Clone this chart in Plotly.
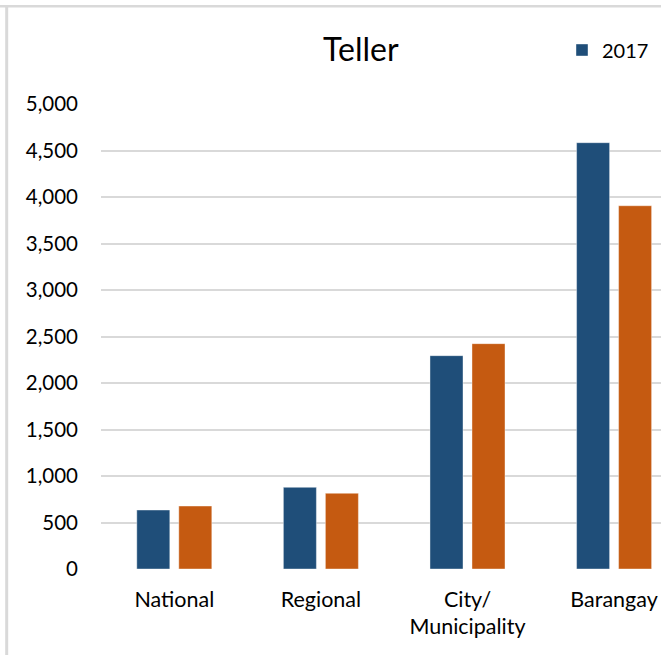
import plotly.graph_objects as go

categories = ["National", "Regional", "City/<br>Municipality", "Barangay"]
series_2017 = [634, 878, 2294, 4584]
series_2018 = [677, 814, 2423, 3906]
series_names = ["2017", "2018"]
y_ticks = [0, 500, 1000, 1500, 2000, 2500, 3000, 3500, 4000, 4500, 5000]
title_text = "Teller"

BLUE = "#1F4E79"
ORANGE = "#C55A11"
GRID = "#D9D9D9"
FONT = "Lato, 'Open Sans', sans-serif"

W, H = 661, 655
L, R, T, B = 101, 0, 104, 86
PW, PH = W - L - R, H - T - B

def px_x(px):
    return (px - L) / PW

def px_y(py):
    return (H - B - py) / PH

fig = go.Figure()
fig.add_trace(go.Bar(
    x=categories, y=series_2017, name=series_names[0],
    marker=dict(color=BLUE, line=dict(color="rgba(255,255,255,0.5)", width=0.8)),
    showlegend=True,
))
fig.add_trace(go.Bar(
    x=categories, y=series_2018, name=series_names[1],
    marker=dict(color=ORANGE, line=dict(color="rgba(255,255,255,0.5)", width=0.8)),
    showlegend=False,
))

fig.update_layout(
    width=W, height=H,
    margin=dict(l=L, r=R, t=T, b=B, pad=0),
    paper_bgcolor="white", plot_bgcolor="white",
    barmode="group", bargap=0.427, bargroupgap=0.214,
    font=dict(family=FONT, size=20, color="#000000"),
    title=dict(text=title_text, x=360.8 / W, xref="container", xanchor="center",
               y=1 - 50 / H, yref="container", yanchor="middle",
               font=dict(family=FONT, size=32, color="#000000")),
    showlegend=True,
    legend=dict(x=px_x(562), y=px_y(50), xanchor="left", yanchor="middle",
                font=dict(family=FONT, size=20, color="#000000"),
                bgcolor="rgba(0,0,0,0)", itemwidth=30),
    xaxis=dict(type="category", range=[-0.5, 3.32], showgrid=False, zeroline=False,
               showline=False, ticks="", ticklabelstandoff=15,
               tickfont=dict(family=FONT, size=21.5, color="#000000")),
    yaxis=dict(range=[0, 5000], tickvals=y_ticks, tickformat=",d", showgrid=True,
               gridcolor=GRID, gridwidth=1.5, zeroline=False, showline=False,
               ticks="", ticklabelstandoff=22,
               tickfont=dict(family=FONT, size=20.5, color="#000000")),
    shapes=[
        dict(type="line", xref="paper", yref="paper", x0=px_x(0), x1=px_x(W),
             y0=px_y(6.2), y1=px_y(6.2), line=dict(color=GRID, width=2.5)),
        dict(type="line", xref="paper", yref="paper", x0=px_x(6.7), x1=px_x(6.7),
             y0=px_y(6.2), y1=px_y(H), line=dict(color=GRID, width=3)),
    ],
)

fig.write_html(
    "out.html",
    config={"displayModeBar": False},
    post_script="document.body.style.margin='0';document.body.style.overflow='hidden';",
)
